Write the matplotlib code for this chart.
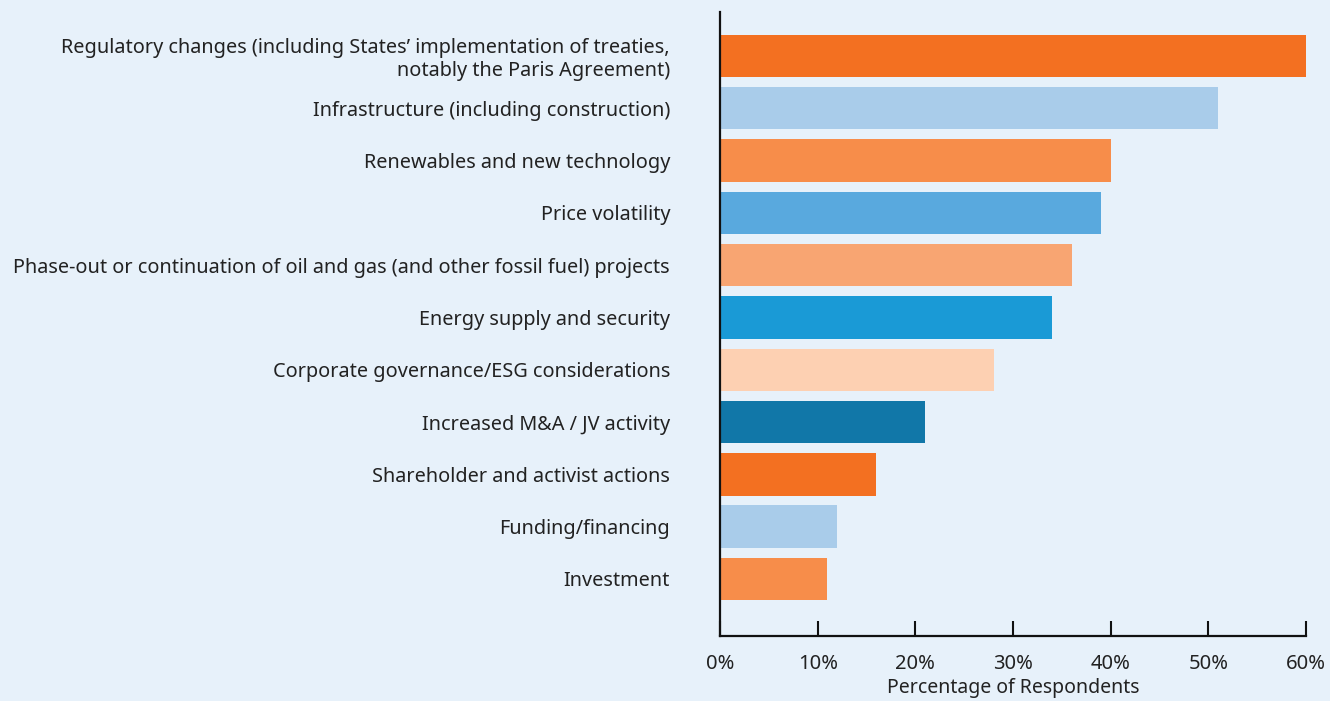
import matplotlib.pyplot as plt
from matplotlib.ticker import FuncFormatter

categories = [
    "Regulatory changes (including States\u2019 implementation of treaties,\nnotably the Paris Agreement)",
    "Infrastructure (including construction)",
    "Renewables and new technology",
    "Price volatility",
    "Phase-out or continuation of oil and gas (and other fossil fuel) projects",
    "Energy supply and security",
    "Corporate governance/ESG considerations",
    "Increased M&A / JV activity",
    "Shareholder and activist actions",
    "Funding/financing",
    "Investment",
]
values = [60, 51, 40, 39, 36, 34, 28, 21, 16, 12, 11]
colors = [
    "#F37021", "#A9CCEA", "#F78D4A", "#59A9DE", "#F8A572", "#1A9AD6",
    "#FDD0B2", "#1177A8", "#F37021", "#A9CCEA", "#F78D4A",
]
xticks = [0, 10, 20, 30, 40, 50, 60]

bg = "#E7F1FA"
plt.rcParams["font.family"] = ["Noto Sans", "DejaVu Sans"]

fig = plt.figure(figsize=(13.3, 7.01), dpi=100, facecolor=bg)
ax = fig.add_axes([0.5414, 0.0927, 0.4406, 0.8903], facecolor=bg)

pos = list(range(len(categories)))
ax.barh(pos, values, height=0.81, color=colors)
ax.set_ylim(len(categories) - 1 + 1.09, -0.84)
ax.set_xlim(0, 60)

ax.set_yticks(pos)
ax.set_yticklabels(categories, fontsize=14.3, color="#222222")
ax.tick_params(axis="y", length=0, pad=36)

ax.set_xticks(xticks)
ax.xaxis.set_major_formatter(FuncFormatter(lambda v, p: f"{v:.0f}%"))
ax.tick_params(axis="x", direction="in", length=11, width=1.5, color="#111111",
               labelsize=14.5, pad=13, labelcolor="#222222")
ax.set_xlabel("Percentage of Respondents", fontsize=14, color="#222222", labelpad=3)

for s in ["top", "right"]:
    ax.spines[s].set_visible(False)
for s in ["left", "bottom"]:
    ax.spines[s].set_linewidth(1.6)
    ax.spines[s].set_color("#111111")

fig.savefig("out.png", dpi=100, facecolor=bg)
